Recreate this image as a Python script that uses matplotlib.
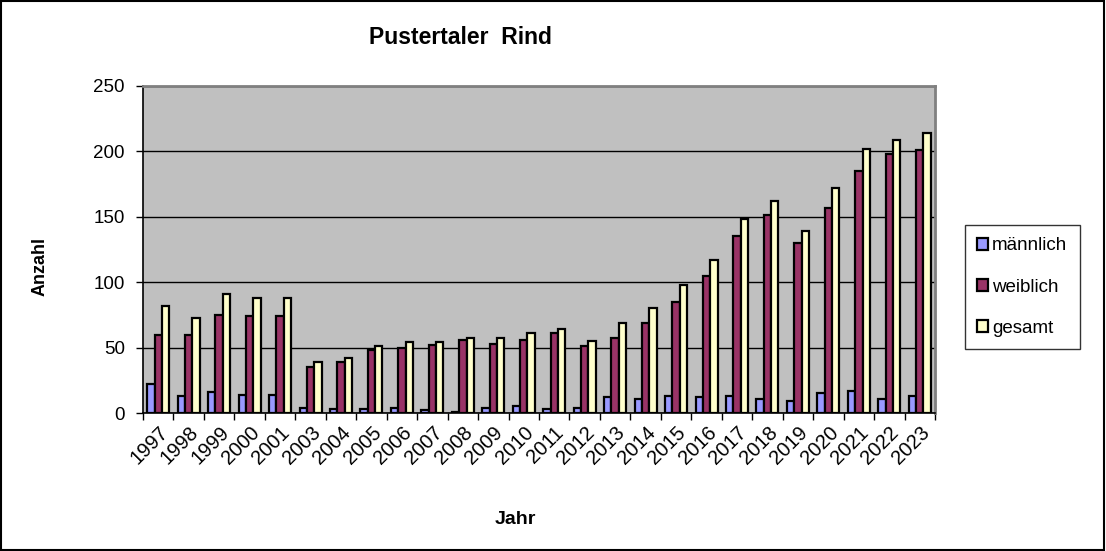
import numpy as np
import matplotlib
matplotlib.use('Agg')
import matplotlib.pyplot as plt

# data
jahre = ['1997', '1998', '1999', '2000', '2001', '2003', '2004', '2005', '2006',
         '2007', '2008', '2009', '2010', '2011', '2012', '2013', '2014', '2015',
         '2016', '2017', '2018', '2019', '2020', '2021', '2022', '2023']
maennlich = [22, 13, 16, 14, 14, 4, 3, 3, 4, 2, 1, 4, 5, 3, 4, 12, 11, 13,
             12, 13, 11, 9, 15, 17, 11, 13]
weiblich = [60, 60, 75, 74, 74, 35, 39, 48, 50, 52, 56, 53, 56, 61, 51, 57, 69, 85,
            105, 135, 151, 130, 157, 185, 198, 201]
gesamt = [82, 73, 91, 88, 88, 39, 42, 51, 54, 54, 57, 57, 61, 64, 55, 69, 80, 98,
          117, 148, 162, 139, 172, 202, 209, 214]

plt.rcParams['font.family'] = ['Liberation Sans', 'DejaVu Sans']

fig = plt.figure(figsize=(11.06, 5.51), dpi=100)
ax = fig.add_axes([143/1106, 1-413/551, (935-143)/1106, (413-86)/551])
ax.set_facecolor('#C0C0C0')

x = np.arange(len(jahre))
w = 0.24
ax.bar(x - w, maennlich, w, color='#9999FF', edgecolor='black', linewidth=1.6, label='männlich', zorder=3)
ax.bar(x, weiblich, w, color='#993366', edgecolor='black', linewidth=1.6, label='weiblich', zorder=3)
ax.bar(x + w, gesamt, w, color='#FFFFCC', edgecolor='black', linewidth=1.6, label='gesamt', zorder=3)

ax.set_xlim(-0.5, len(jahre) - 0.5)
ax.set_ylim(0, 250)
ax.set_yticks([0, 50, 100, 150, 200, 250])
ax.yaxis.grid(True, color='black', linewidth=1, zorder=0)
ax.tick_params(axis='y', labelsize=13.5, length=5, direction='out', width=1, pad=8)

ax.set_xticks(x)
ax.set_xticklabels(jahre, rotation=45, ha='right', rotation_mode='anchor', fontsize=14.5)
ax.set_xticks(np.arange(len(jahre) + 1) - 0.5, minor=True)
ax.tick_params(axis='x', which='major', length=0, pad=7)
ax.tick_params(axis='x', which='minor', length=5, width=1)

for s in ['top', 'right']:
    ax.spines[s].set_color('#808080')
    ax.spines[s].set_linewidth(2)
for s in ['left', 'bottom']:
    ax.spines[s].set_color('black')
    ax.spines[s].set_linewidth(1.2)

fig.text(460/1106, 1-38/551, 'Pustertaler  Rind', fontsize=16.5, fontweight='bold', ha='center', va='center')
fig.text(40/1106, 1-266/551, 'Anzahl', fontsize=13, fontweight='bold', rotation=90, ha='center', va='center')
fig.text(515/1106, 1-520/551, 'Jahr', fontsize=14, fontweight='bold', ha='center', va='center')

leg = fig.legend(loc='upper left', bbox_to_anchor=(965/1106, 1-225/551), fontsize=13.5,
                 frameon=True, fancybox=False, edgecolor='black', handlelength=0.6,
                 handleheight=0.6, handletextpad=0.2, labelspacing=1.3,
                 borderpad=0.65, borderaxespad=0)
leg.get_frame().set_linewidth(1)

# outer border
fig.patches.append(plt.Rectangle((0.001, 0.002), 0.997, 0.996, transform=fig.transFigure,
                                 fill=False, edgecolor='black', linewidth=1.5))

fig.savefig('out.png', dpi=100)
